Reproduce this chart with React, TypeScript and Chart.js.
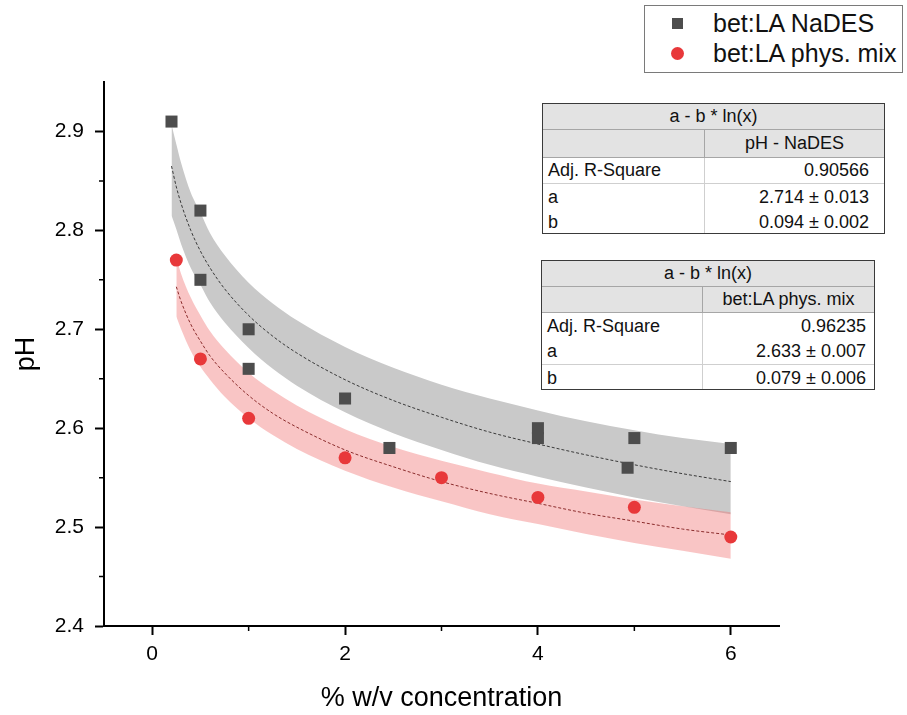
import React, { useEffect, useRef } from "react";
import { Chart, registerables } from "chart.js";

Chart.register(...registerables);

// ---------- data ----------
const NADES_X = [0.2, 0.5, 0.5, 1, 1, 2, 2.46, 4, 4, 4.93, 5, 6];
const NADES_Y = [2.91, 2.82, 2.75, 2.7, 2.66, 2.63, 2.58, 2.6, 2.59, 2.56, 2.59, 2.58];
const MIX_X = [0.25, 0.5, 1, 2, 3, 4, 5, 6];
const MIX_Y = [2.77, 2.67, 2.61, 2.57, 2.55, 2.53, 2.52, 2.49];

const NADES_FIT_X = [0.2, 0.25, 0.3, 0.4, 0.5, 0.6, 0.75, 1, 1.25, 1.5, 2, 2.5, 3, 3.5, 4, 4.5, 5, 5.5, 6];
const NADES_FIT = [2.865, 2.844, 2.827, 2.8, 2.779, 2.762, 2.741, 2.714, 2.693, 2.676, 2.649, 2.628, 2.611, 2.596, 2.584, 2.573, 2.563, 2.554, 2.546];
const NADES_UPPER = [2.907, 2.887, 2.868, 2.838, 2.818, 2.797, 2.775, 2.747, 2.726, 2.709, 2.682, 2.661, 2.644, 2.63, 2.618, 2.607, 2.598, 2.59, 2.584];
const NADES_LOWER = [2.815, 2.801, 2.786, 2.762, 2.745, 2.727, 2.707, 2.681, 2.66, 2.643, 2.616, 2.595, 2.578, 2.563, 2.551, 2.54, 2.53, 2.521, 2.513];

const MIX_FIT_X = [0.25, 0.3, 0.4, 0.5, 0.6, 0.75, 1, 1.25, 1.5, 2, 2.5, 3, 3.5, 4, 4.5, 5, 5.5, 6];
const MIX_FIT = [2.743, 2.728, 2.705, 2.688, 2.673, 2.656, 2.633, 2.615, 2.601, 2.578, 2.561, 2.546, 2.534, 2.524, 2.514, 2.506, 2.498, 2.492];
const MIX_UPPER = [2.772, 2.756, 2.732, 2.714, 2.698, 2.68, 2.656, 2.638, 2.623, 2.599, 2.581, 2.567, 2.555, 2.544, 2.536, 2.528, 2.521, 2.515];
const MIX_LOWER = [2.713, 2.7, 2.678, 2.662, 2.649, 2.632, 2.61, 2.593, 2.579, 2.557, 2.54, 2.526, 2.513, 2.503, 2.493, 2.484, 2.476, 2.468];

const X_TICKS = [0, 2, 4, 6];
const X_MINOR = [1, 3, 5];
const Y_TICKS = [2.4, 2.5, 2.6, 2.7, 2.8, 2.9];
const Y_MINOR = [2.45, 2.55, 2.65, 2.75, 2.85];

const SERIES_NAMES = ["bet:LA NaDES", "bet:LA phys. mix"];
const X_TITLE = "% w/v concentration";
const Y_TITLE = "pH";

const TABLE_TITLE = "a - b * ln(x)";
const TABLE1_HEADER = "pH - NaDES";
const TABLE1_ROWS = [
  ["Adj. R-Square", "0.90566"],
  ["a", "2.714 ± 0.013"],
  ["b", "0.094 ± 0.002"],
];
const TABLE2_HEADER = "bet:LA phys. mix";
const TABLE2_ROWS = [
  ["Adj. R-Square", "0.96235"],
  ["a", "2.633 ± 0.007"],
  ["b", "0.079 ± 0.006"],
];

const FONT = "'Liberation Sans', Arial, sans-serif";
const SQUARE_COLOR = "#4d4d4d";
const CIRCLE_COLOR = "#e8383a";

const pts = (xs: number[], ys: number[]) => xs.map((x, i) => ({ x, y: ys[i] }));

const minorTicks = {
  id: "minorTicks",
  afterDraw(chart: any) {
    const { ctx, scales } = chart;
    const xs = scales.x;
    const ys = scales.y;
    ctx.save();
    ctx.strokeStyle = "#000";
    ctx.lineWidth = 1.5;
    ctx.beginPath();
    X_MINOR.forEach((v) => {
      const p = xs.getPixelForValue(v);
      ctx.moveTo(p, xs.top);
      ctx.lineTo(p, xs.top + 5);
    });
    Y_MINOR.forEach((v) => {
      const p = ys.getPixelForValue(v);
      ctx.moveTo(ys.right - 5, p);
      ctx.lineTo(ys.right, p);
    });
    ctx.stroke();
    ctx.restore();
  },
};

function FitTable(props: {
  left: number; top: number; width: number; col1: number; rowH: number[];
  header: string; rows: string[][]; sepAfter: number; padRight: number;
}) {
  const { left, top, width, col1, rowH, header, rows, sepAfter, padRight } = props;
  const height = rowH.reduce((a, b) => a + b, 0);
  return (
    <div
      style={{
        position: "absolute", left, top, width, height, boxSizing: "border-box",
        border: "1px solid #3a3a3a", background: "#fff", fontFamily: FONT, fontSize: 18,
        color: "#111", overflow: "hidden",
      }}
    >
      <div style={{ height: rowH[0], boxSizing: "border-box", background: "#e3e3e3", borderBottom: "1px solid #a6a6a6", display: "flex", alignItems: "center", justifyContent: "center" }}>
        {TABLE_TITLE}
      </div>
      <div style={{ height: rowH[1], boxSizing: "border-box", background: "#e3e3e3", borderBottom: "1px solid #a6a6a6", display: "flex" }}>
        <div style={{ width: col1, boxSizing: "border-box", borderRight: "1px solid #a6a6a6" }} />
        <div style={{ flex: 1, display: "flex", alignItems: "center", justifyContent: "center" }}>{header}</div>
      </div>
      {rows.map((r, i) => (
        <div key={i} style={{ height: rowH[i + 2], boxSizing: "border-box", display: "flex", borderBottom: i === sepAfter ? "1px solid #cfcfcf" : "none" }}>
          <div style={{ width: col1, boxSizing: "border-box", borderRight: "1px solid #cfcfcf", paddingLeft: 5, display: "flex", alignItems: "center" }}>{r[0]}</div>
          <div style={{ flex: 1, paddingRight: padRight, display: "flex", alignItems: "center", justifyContent: "flex-end" }}>{r[1]}</div>
        </div>
      ))}
    </div>
  );
}

export default function App() {
  const ref = useRef<HTMLCanvasElement | null>(null);

  useEffect(() => {
    if (!ref.current) return;
    const chart = new Chart(ref.current, {
      type: "scatter",
      data: {
        datasets: [
          {
            label: SERIES_NAMES[0], data: pts(NADES_X, NADES_Y), pointStyle: "rect",
            pointRadius: 8.5, backgroundColor: SQUARE_COLOR, borderWidth: 0, order: 0,
          } as any,
          {
            label: SERIES_NAMES[1], data: pts(MIX_X, MIX_Y), pointStyle: "circle",
            pointRadius: 6.5, backgroundColor: CIRCLE_COLOR, borderWidth: 0, order: 0,
          },
          {
            label: "fit1", data: pts(NADES_FIT_X, NADES_FIT), showLine: true, pointRadius: 0,
            borderColor: "#3a3a3a", borderWidth: 1, borderDash: [3, 2], cubicInterpolationMode: "monotone", order: 1,
          },
          {
            label: "fit2", data: pts(MIX_FIT_X, MIX_FIT), showLine: true, pointRadius: 0,
            borderColor: "#8a2b2b", borderWidth: 1, borderDash: [3, 2], cubicInterpolationMode: "monotone", order: 1,
          },
          {
            label: "band1u", data: pts(NADES_FIT_X, NADES_UPPER), showLine: true, pointRadius: 0,
            borderColor: "rgba(0,0,0,0)", borderWidth: 0, cubicInterpolationMode: "monotone",
            fill: 5, backgroundColor: "rgb(201,201,201)", order: 3,
          },
          {
            label: "band1l", data: pts(NADES_FIT_X, NADES_LOWER), showLine: true, pointRadius: 0,
            borderColor: "rgba(0,0,0,0)", borderWidth: 0, cubicInterpolationMode: "monotone", fill: false, order: 3,
          },
          {
            label: "band2u", data: pts(MIX_FIT_X, MIX_UPPER), showLine: true, pointRadius: 0,
            borderColor: "rgba(0,0,0,0)", borderWidth: 0, cubicInterpolationMode: "monotone",
            fill: 7, backgroundColor: "rgba(240,110,110,0.4)", order: 2,
          },
          {
            label: "band2l", data: pts(MIX_FIT_X, MIX_LOWER), showLine: true, pointRadius: 0,
            borderColor: "rgba(0,0,0,0)", borderWidth: 0, cubicInterpolationMode: "monotone", fill: false, order: 2,
          },
        ],
      },
      options: {
        responsive: false,
        animation: false,
        devicePixelRatio: 1,
        events: [],
        layout: { padding: { left: 0, top: 82, right: 128, bottom: 0 } },
        plugins: { legend: { display: false }, tooltip: { enabled: false } },
        scales: {
          x: {
            type: "linear", min: -0.5, max: 6.5,
            afterFit: (s: any) => { s.height = 89; },
            afterBuildTicks: (s: any) => { s.ticks = X_TICKS.map((v) => ({ value: v })); },
            grid: { drawOnChartArea: false, drawTicks: true, tickLength: 9, tickWidth: 2, tickColor: "#000" },
            border: { display: true, color: "#000", width: 2 },
            ticks: {
              color: "#000", padding: 7, font: { family: FONT, size: 21 },
              callback: (v: any) => String(v),
            },
            title: { display: true, text: X_TITLE, color: "#000", font: { family: FONT, size: 27, lineHeight: 1.2 }, padding: { top: 0, bottom: 0 } },
          },
          y: {
            type: "linear", min: 2.4, max: 2.95,
            afterFit: (s: any) => { s.width = 104; },
            afterBuildTicks: (s: any) => { s.ticks = Y_TICKS.map((v) => ({ value: v })); },
            grid: { drawOnChartArea: false, drawTicks: true, tickLength: 9, tickWidth: 2, tickColor: "#000" },
            border: { display: true, color: "#000", width: 2 },
            ticks: {
              color: "#000", padding: 11, font: { family: FONT, size: 21 },
              callback: (v: any) => Number(v).toFixed(1),
            },
            title: { display: true, text: Y_TITLE, color: "#000", font: { family: FONT, size: 27, lineHeight: 1.2 }, padding: { top: 10, bottom: 0 } },
          },
        },
      } as any,
      plugins: [minorTicks],
    });
    return () => chart.destroy();
  }, []);

  return (
    <div style={{ position: "absolute", left: 0, top: 0, width: 907, height: 715, background: "#fff", overflow: "hidden" }}>
      <canvas ref={ref} width={907} height={715} style={{ position: "absolute", left: 0, top: 0, width: 907, height: 715 }} />
      {/* legend */}
      <div style={{ position: "absolute", left: 644, top: 5, width: 259, height: 68, boxSizing: "border-box", border: "1px solid #7a7a7a", background: "#fff", fontFamily: FONT, fontSize: 25, color: "#111" }}>
        <div style={{ position: "absolute", left: 27, top: 12, width: 11, height: 11, background: SQUARE_COLOR }} />
        <div style={{ position: "absolute", left: 68, top: 1, height: 33, lineHeight: "33px", whiteSpace: "nowrap" }}>{SERIES_NAMES[0]}</div>
        <div style={{ position: "absolute", left: 26, top: 41, width: 13, height: 13, borderRadius: "50%", background: CIRCLE_COLOR }} />
        <div style={{ position: "absolute", left: 68, top: 31, height: 33, lineHeight: "33px", whiteSpace: "nowrap" }}>{SERIES_NAMES[1]}</div>
      </div>
      <FitTable left={542} top={103} width={343} col1={162} rowH={[26, 28, 26, 26, 25]} header={TABLE1_HEADER} rows={TABLE1_ROWS} sepAfter={0} padRight={15} />
      <FitTable left={541} top={260} width={334} col1={161} rowH={[26, 26, 26, 26, 26]} header={TABLE2_HEADER} rows={TABLE2_ROWS} sepAfter={1} padRight={8} />
    </div>
  );
}
